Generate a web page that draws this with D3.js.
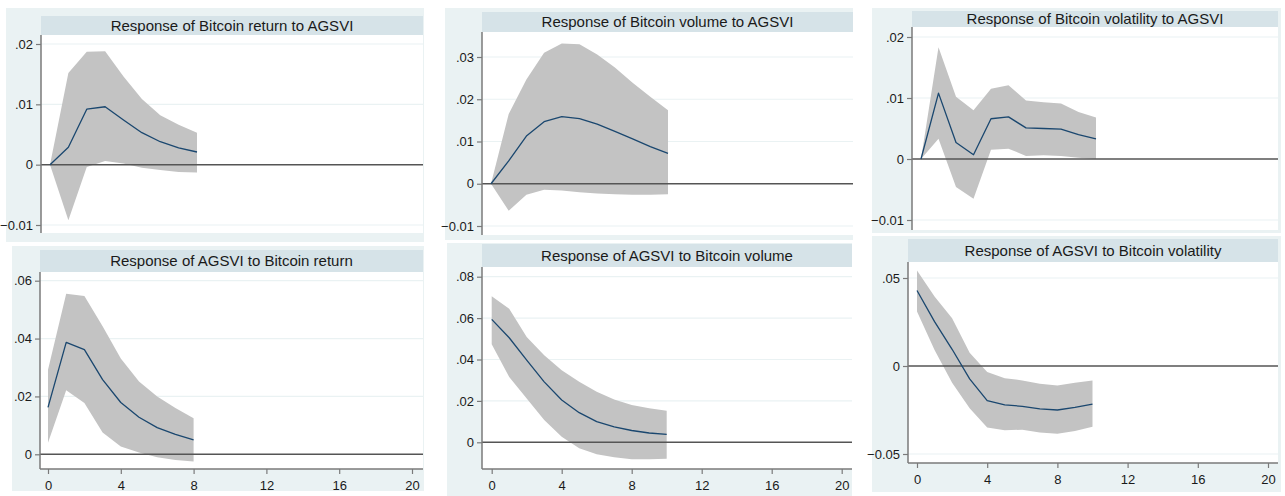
<!DOCTYPE html>
<html>
<head>
<meta charset="utf-8">
<script src="https://cdn.jsdelivr.net/npm/d3@7"></script>
<style>
  html, body { margin: 0; padding: 0; background: #ffffff; }
  svg { display: block; }
  text { font-family: "Liberation Sans", Arial, sans-serif; fill: #1a1a1a; }
</style>
</head>
<body>
<svg id="chart" width="1285" height="496"></svg>
<script>
// ---- Impulse-response data (step, point estimate, upper and lower confidence band) ----
const titles = [
  "Response of Bitcoin return to AGSVI",
  "Response of Bitcoin volume to AGSVI",
  "Response of Bitcoin volatility to AGSVI",
  "Response of AGSVI to Bitcoin return",
  "Response of AGSVI to Bitcoin volume",
  "Response of AGSVI to Bitcoin volatility"
];

const stepsShort = [0, 1, 2, 3, 4, 5, 6, 7, 8];
const stepsLong = [0, 1, 2, 3, 4, 5, 6, 7, 8, 9, 10];

const returnToAgsviIrf = [0, 0.0029, 0.0092, 0.0096, 0.0074, 0.0053, 0.0038, 0.0028, 0.0021];
const returnToAgsviHi  = [0, 0.0152, 0.0187, 0.0188, 0.0146, 0.0109, 0.0082, 0.0066, 0.0053];
const returnToAgsviLo  = [0, -0.0092, -0.0004, 0.0006, 0.0002, -0.0005, -0.0009, -0.0012, -0.0013];

const volumeToAgsviIrf = [0, 0.0054, 0.0113, 0.0147, 0.0159, 0.0154, 0.0141, 0.0124, 0.0106, 0.0088, 0.0072];
const volumeToAgsviHi  = [0, 0.0165, 0.0247, 0.0310, 0.0332, 0.0330, 0.0306, 0.0275, 0.0239, 0.0206, 0.0174];
const volumeToAgsviLo  = [0, -0.0064, -0.0026, -0.0014, -0.0016, -0.0020, -0.0023, -0.0025, -0.0026, -0.0026, -0.0025];

const volatilityToAgsviIrf = [0, 0.0108, 0.0027, 0.0007, 0.0066, 0.0069, 0.0051, 0.0050, 0.0049, 0.0040, 0.0033];
const volatilityToAgsviHi  = [0, 0.0183, 0.0102, 0.0080, 0.0115, 0.0121, 0.0096, 0.0093, 0.0091, 0.0077, 0.0068];
const volatilityToAgsviLo  = [0, 0.0033, -0.0046, -0.0065, 0.0015, 0.0017, 0.0005, 0.0006, 0.0005, 0.0002, 0];

const agsviToReturnIrf = [0.0162, 0.0387, 0.0362, 0.0258, 0.0179, 0.0128, 0.0092, 0.0069, 0.0050];
const agsviToReturnHi  = [0.0292, 0.0555, 0.0547, 0.0443, 0.0331, 0.0252, 0.0200, 0.0160, 0.0125];
const agsviToReturnLo  = [0.0040, 0.0221, 0.0177, 0.0075, 0.0027, 0.0006, -0.0010, -0.0020, -0.0025];

const agsviToVolumeIrf = [0.0594, 0.0505, 0.0397, 0.0292, 0.0204, 0.0143, 0.0100, 0.0074, 0.0057, 0.0045, 0.0038];
const agsviToVolumeHi  = [0.0705, 0.0645, 0.0509, 0.0421, 0.0348, 0.0292, 0.0244, 0.0207, 0.0180, 0.0164, 0.0152];
const agsviToVolumeLo  = [0.0474, 0.0316, 0.0212, 0.0108, 0.0027, -0.0029, -0.0058, -0.0072, -0.0082, -0.0082, -0.0080];

const agsviToVolatilityIrf = [0.0429, 0.0252, 0.0095, -0.0073, -0.0197, -0.0221, -0.0229, -0.0244, -0.0250, -0.0235, -0.0216];
const agsviToVolatilityHi  = [0.0542, 0.0395, 0.0271, 0.0075, -0.0034, -0.0069, -0.0082, -0.0101, -0.0111, -0.0095, -0.0082];
const agsviToVolatilityLo  = [0.0310, 0.0091, -0.0095, -0.0240, -0.0350, -0.0365, -0.0362, -0.0378, -0.0385, -0.0370, -0.0345];

// ---- Tick values ----
const yTicksReturnToAgsvi = [-0.01, 0, 0.01, 0.02];
const yTicksVolumeToAgsvi = [-0.01, 0, 0.01, 0.02, 0.03];
const yTicksVolatilityToAgsvi = [-0.01, 0, 0.01, 0.02];
const yTicksAgsviToReturn = [0, 0.02, 0.04, 0.06];
const yTicksAgsviToVolume = [0, 0.02, 0.04, 0.06, 0.08];
const yTicksAgsviToVolatility = [-0.05, 0, 0.05];
const xTicks = [0, 4, 8, 12, 16, 20];

// ---- Styling ----
const COLORS = {
  region: "#eaf2f3",
  titleBox: "#d6e3e8",
  grid: "#eaf2f3",
  band: "#c3c3c3",
  line: "#1a476f",
  axis: "#7a7a7a",
  zero: "#555555"
};
const FONT = "'Liberation Sans', Arial, sans-serif";

// Stata-style tick label: drop the leading zero (".02", "-.01")
const fmtTick = v => {
  if (Math.abs(v) < 1e-12) return "0";
  const s = d3.format("")(+v.toFixed(4));
  return s.replace(/^(-?)0\./, "$1.");
};

// Panel layout: graph region, title box, plot area and value ranges
const panels = [
  { title: titles[0], steps: stepsShort, irf: returnToAgsviIrf, hi: returnToAgsviHi, lo: returnToAgsviLo,
    yTicks: yTicksReturnToAgsvi, yDomain: [-0.01, 0.02],
    region: [6, 8, 424, 242], titleBox: [41, 16, 423, 35],
    plot: { left: 41, right: 423, top: 35, bottom: 233 }, yRange: [225, 44], xRange: [50, 417.5], xAxis: false },
  { title: titles[1], steps: stepsLong, irf: volumeToAgsviIrf, hi: volumeToAgsviHi, lo: volumeToAgsviLo,
    yTicks: yTicksVolumeToAgsvi, yDomain: [-0.01, 0.03],
    region: [445, 8, 853, 240], titleBox: [482, 12, 853, 32],
    plot: { left: 482, right: 853, top: 32, bottom: 235 }, yRange: [226, 57], xRange: [491, 845], xAxis: false },
  { title: titles[2], steps: stepsLong, irf: volatilityToAgsviIrf, hi: volatilityToAgsviHi, lo: volatilityToAgsviLo,
    yTicks: yTicksVolatilityToAgsvi, yDomain: [-0.01, 0.02],
    region: [872, 8, 1281, 233], titleBox: [912, 11, 1278, 27],
    plot: { left: 912, right: 1278, top: 27, bottom: 230 }, yRange: [220, 37], xRange: [921, 1271], xAxis: false },
  { title: titles[3], steps: stepsShort, irf: agsviToReturnIrf, hi: agsviToReturnHi, lo: agsviToReturnLo,
    yTicks: yTicksAgsviToReturn, yDomain: [0, 0.06],
    region: [12, 246, 424, 491], titleBox: [40, 250, 423, 272],
    plot: { left: 40, right: 423, top: 272, bottom: 469 }, yRange: [454.3, 280.7], xRange: [48, 412], xAxis: true },
  { title: titles[4], steps: stepsLong, irf: agsviToVolumeIrf, hi: agsviToVolumeHi, lo: agsviToVolumeLo,
    yTicks: yTicksAgsviToVolume, yDomain: [0, 0.08],
    region: [447, 243, 852, 496], titleBox: [482, 244, 852, 267],
    plot: { left: 482, right: 852, top: 267, bottom: 469 }, yRange: [442.3, 276.7], xRange: [491.7, 841.7], xAxis: true },
  { title: titles[5], steps: stepsLong, irf: agsviToVolatilityIrf, hi: agsviToVolatilityHi, lo: agsviToVolatilityLo,
    yTicks: yTicksAgsviToVolatility, yDomain: [-0.05, 0.05],
    region: [872, 236, 1281, 492], titleBox: [908, 239, 1278, 262],
    plot: { left: 908, right: 1278, top: 262, bottom: 463 }, yRange: [454, 278], xRange: [917, 1268], xAxis: true }
];

const svg = d3.select("#chart");

panels.forEach(p => {
  const g = svg.append("g");
  const x = d3.scaleLinear().domain([0, 20]).range(p.xRange);
  const y = d3.scaleLinear().domain(p.yDomain).range(p.yRange);
  const pl = p.plot;

  // graph region
  g.append("rect")
    .attr("x", p.region[0]).attr("y", p.region[1])
    .attr("width", p.region[2] - p.region[0]).attr("height", p.region[3] - p.region[1])
    .attr("fill", COLORS.region);

  // plot area
  g.append("rect")
    .attr("x", pl.left).attr("y", pl.top)
    .attr("width", pl.right - pl.left).attr("height", pl.bottom - pl.top)
    .attr("fill", "#ffffff");

  // title box
  g.append("rect")
    .attr("x", p.titleBox[0]).attr("y", p.titleBox[1])
    .attr("width", p.titleBox[2] - p.titleBox[0]).attr("height", p.titleBox[3] - p.titleBox[1])
    .attr("fill", COLORS.titleBox);
  g.append("text")
    .attr("x", (p.titleBox[0] + p.titleBox[2]) / 2)
    .attr("y", (p.titleBox[1] + p.titleBox[3]) / 2)
    .attr("dy", "0.36em")
    .attr("text-anchor", "middle")
    .style("font-size", "15px")
    .text(p.title);

  // horizontal grid lines
  g.selectAll(".grid").data(p.yTicks.filter(t => t !== 0)).enter().append("line")
    .attr("x1", pl.left).attr("x2", pl.right)
    .attr("y1", d => y(d)).attr("y2", d => y(d))
    .attr("stroke", COLORS.grid).attr("stroke-width", 1.2);

  // confidence band
  const band = d3.area()
    .x((d, i) => x(p.steps[i]))
    .y0((d, i) => y(p.lo[i]))
    .y1((d, i) => y(p.hi[i]));
  g.append("path").datum(p.irf).attr("d", band).attr("fill", COLORS.band);

  // zero reference line
  g.append("line")
    .attr("x1", pl.left).attr("x2", pl.right)
    .attr("y1", y(0)).attr("y2", y(0))
    .attr("stroke", COLORS.zero).attr("stroke-width", 1.5);

  // impulse response
  const line = d3.line().x((d, i) => x(p.steps[i])).y(d => y(d));
  g.append("path").datum(p.irf).attr("d", line)
    .attr("fill", "none").attr("stroke", COLORS.line).attr("stroke-width", 1.3)
    .attr("stroke-linejoin", "round");

  // y axis
  const yAxis = d3.axisLeft(y).tickValues(p.yTicks).tickFormat(fmtTick).tickSize(5).tickPadding(3).tickSizeOuter(0);
  const ya = g.append("g").attr("transform", `translate(${pl.left},0)`).call(yAxis);
  ya.select(".domain").remove();
  ya.selectAll(".tick line").attr("stroke", COLORS.axis).attr("stroke-width", 1.2);
  ya.selectAll(".tick text").style("font-size", "13px").style("font-family", FONT).attr("fill", "#1a1a1a");
  g.append("line")
    .attr("x1", pl.left).attr("x2", pl.left)
    .attr("y1", pl.top).attr("y2", pl.bottom)
    .attr("stroke", COLORS.axis).attr("stroke-width", 1.5);

  // x axis (bottom row only)
  if (p.xAxis) {
    const xAxis = d3.axisBottom(x).tickValues(xTicks).tickFormat(d3.format("d")).tickSize(5).tickPadding(7).tickSizeOuter(0);
    const xa = g.append("g").attr("transform", `translate(0,${pl.bottom})`).call(xAxis);
    xa.select(".domain").remove();
    xa.selectAll(".tick line").attr("stroke", COLORS.axis).attr("stroke-width", 1.2);
    xa.selectAll(".tick text").style("font-size", "13px").style("font-family", FONT).attr("fill", "#1a1a1a");
    g.append("line")
      .attr("x1", pl.left).attr("x2", pl.right)
      .attr("y1", pl.bottom).attr("y2", pl.bottom)
      .attr("stroke", COLORS.axis).attr("stroke-width", 1.5);
  }
});
</script>
</body>
</html>
